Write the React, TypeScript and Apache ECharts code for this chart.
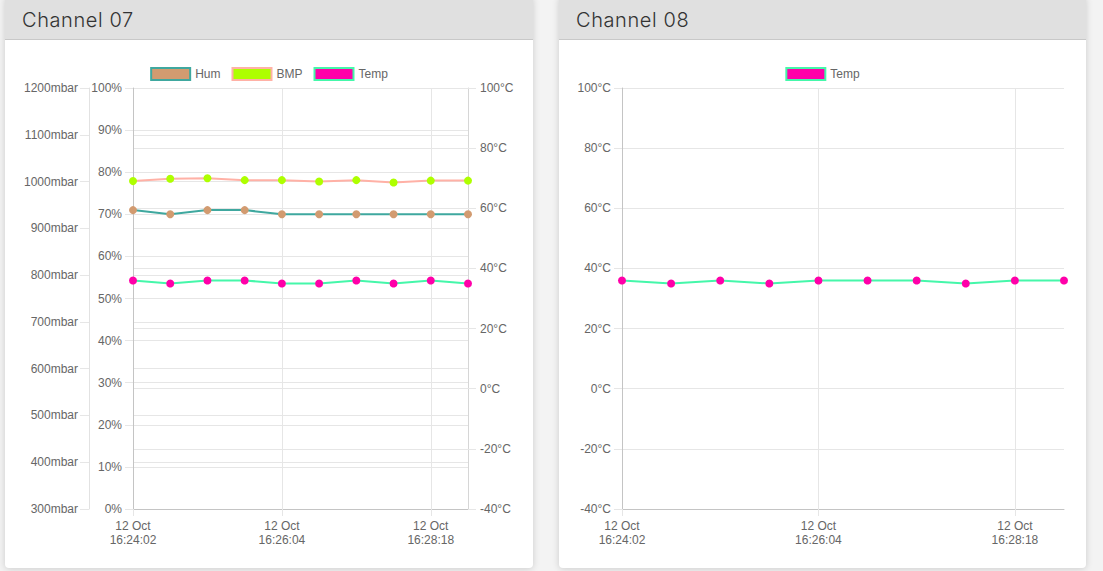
import { useEffect, useRef } from "react";
import * as echarts from "echarts";

// sample times (only every 4th one is labelled on the axis)
const times = [
  "12 Oct\n16:24:02",
  "12 Oct\n16:24:33",
  "12 Oct\n16:25:03",
  "12 Oct\n16:25:34",
  "12 Oct\n16:26:04",
  "12 Oct\n16:26:37",
  "12 Oct\n16:27:10",
  "12 Oct\n16:27:44",
  "12 Oct\n16:28:18",
  "12 Oct\n16:28:50",
];

// channel 07
const hum07 = [71, 70, 71, 71, 70, 70, 70, 70, 70, 70];
const bmp07 = [1001, 1006, 1007, 1003, 1003, 1000, 1003, 998, 1002, 1002];
const temp07 = [36, 35, 36, 36, 35, 35, 36, 35, 36, 35];

// channel 08
const temp08 = [36, 35, 36, 35, 36, 36, 36, 35, 36, 36];

const FONT = "'Liberation Sans', Arial, Helvetica, sans-serif";
const TXT = "#666";
const GRID = "#e6e6e6";
const AXIS = "#c4c4c4";

const HUM = { line: "#3fa89f", point: "#d29b70" };
const BMP = { line: "#ffb1a6", point: "#aeff00" };
const TEMP = { line: "#45f7aa", point: "#ff00a9" };

const label = (unit: string) => ({
  formatter: (v: number) => `${v}${unit}`,
  color: TXT,
  fontSize: 12,
  fontFamily: FONT,
  margin: 11,
});

const xAxis = {
  type: "category" as const,
  data: times,
  boundaryGap: false,
  axisLine: { onZero: false, lineStyle: { color: AXIS } },
  axisTick: { show: true, interval: 3, length: 7, lineStyle: { color: GRID } },
  axisLabel: {
    interval: 3,
    color: TXT,
    fontSize: 12,
    fontFamily: FONT,
    margin: 10,
    lineHeight: 14,
  },
  splitLine: { show: true, interval: 3, lineStyle: { color: GRID } },
};

const lineSeries = (
  name: string,
  data: number[],
  c: { line: string; point: string },
  yAxisIndex: number
) => ({
  name,
  type: "line" as const,
  data,
  yAxisIndex,
  symbol: "circle",
  symbolSize: 8,
  showAllSymbol: true,
  lineStyle: { color: c.line, width: 2 },
  itemStyle: { color: c.point },
});

const legendItem = (name: string, c: { line: string; point: string }) => ({
  name,
  itemStyle: { color: c.point, borderColor: c.line, borderWidth: 2 },
});

const legend = (items: any[]) => ({
  top: 21,
  left: "center",
  icon: "rect",
  itemWidth: 39,
  itemHeight: 12,
  itemGap: 11,
  textStyle: { color: TXT, fontSize: 12, fontFamily: FONT },
  data: items,
});

function option07(): echarts.EChartsOption {
  return {
    animation: false,
    legend: legend([legendItem("Hum", HUM), legendItem("BMP", BMP), legendItem("Temp", TEMP)]),
    grid: { left: 128, right: 65, top: 47, bottom: 59 },
    xAxis,
    yAxis: [
      {
        type: "value",
        position: "left",
        offset: 44,
        min: 300,
        max: 1200,
        interval: 100,
        axisLine: { show: true, lineStyle: { color: "#e2e2e2" } },
        axisTick: { show: true, length: 9, lineStyle: { color: GRID } },
        axisLabel: label("mbar"),
        splitLine: { lineStyle: { color: GRID } },
      },
      {
        type: "value",
        position: "left",
        min: 0,
        max: 100,
        interval: 10,
        axisLine: { show: true, lineStyle: { color: AXIS } },
        axisTick: { show: true, length: 8, lineStyle: { color: GRID } },
        axisLabel: label("%"),
        splitLine: { lineStyle: { color: GRID } },
      },
      {
        type: "value",
        position: "right",
        min: -40,
        max: 100,
        interval: 20,
        axisLine: { show: true, lineStyle: { color: "#d6d6d6" } },
        axisTick: { show: true, length: 8, lineStyle: { color: GRID } },
        axisLabel: { ...label("°C"), margin: 12 },
        splitLine: { lineStyle: { color: GRID } },
      },
    ],
    series: [
      lineSeries("Hum", hum07, HUM, 1),
      lineSeries("BMP", bmp07, BMP, 0),
      lineSeries("Temp", temp07, TEMP, 2),
    ],
  };
}

function option08(): echarts.EChartsOption {
  return {
    animation: false,
    legend: legend([legendItem("Temp", TEMP)]),
    grid: { left: 63, right: 22, top: 47, bottom: 59 },
    xAxis,
    yAxis: {
      type: "value",
      position: "left",
      min: -40,
      max: 100,
      interval: 20,
      axisLine: { show: true, lineStyle: { color: AXIS } },
      axisTick: { show: true, length: 8, lineStyle: { color: GRID } },
      axisLabel: label("°C"),
      splitLine: { lineStyle: { color: GRID } },
    },
    series: [lineSeries("Temp", temp08, TEMP, 0)],
  };
}

function Chart({ option }: { option: echarts.EChartsOption }) {
  const ref = useRef<HTMLDivElement>(null);
  useEffect(() => {
    if (!ref.current) return;
    const chart = echarts.init(ref.current, undefined, { renderer: "svg" });
    chart.setOption(option);
    return () => chart.dispose();
  }, []);
  return <div ref={ref} style={{ width: "100%", height: "100%" }} />;
}

function Card({
  title,
  left,
  width,
  option,
}: {
  title: string;
  left: number;
  width: number;
  option: echarts.EChartsOption;
}) {
  return (
    <div
      style={{
        position: "absolute",
        left,
        top: -4,
        width,
        height: 572,
        background: "#fff",
        borderRadius: 4,
        boxShadow: "0 1px 7px rgba(0,0,0,0.16)",
        overflow: "hidden",
      }}
    >
      <div
        style={{
          height: 44,
          boxSizing: "border-box",
          background: "#e0e0e0",
          borderBottom: "1px solid #c8c8c8",
          paddingLeft: 17,
          paddingTop: 11,
          fontFamily: "Inter, 'Open Sans', sans-serif",
          fontWeight: 300,
          fontSize: 20,
          letterSpacing: 0.6,
          color: "#333",
          lineHeight: "26px",
        }}
      >
        {title}
      </div>
      <div style={{ position: "absolute", left: 0, top: 45, width, height: 527 }}>
        <Chart option={option} />
      </div>
    </div>
  );
}

export default function App() {
  return (
    <div
      style={{
        position: "fixed",
        inset: 0,
        background: "#f3f3f3",
        overflow: "hidden",
      }}
    >
      <Card title="Channel 07" left={5} width={528} option={option07()} />
      <Card title="Channel 08" left={559} width={527} option={option08()} />
    </div>
  );
}
